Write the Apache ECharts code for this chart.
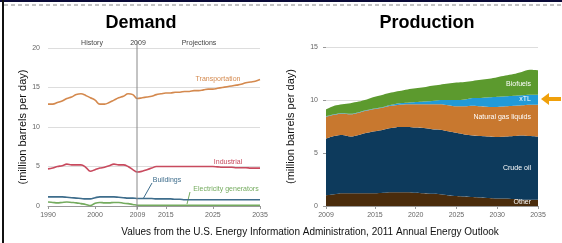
<!DOCTYPE html>
<html>
<head>
<meta charset="utf-8">
<script src="https://cdn.jsdelivr.net/npm/echarts@6/dist/echarts.min.js"></script>
<style>
html, body { margin: 0; padding: 0; background: #fff; }
#chart { width: 562px; height: 243px; }
</style>
</head>
<body>
<div id="chart"></div>
<script>
// Demand, 1990-2035 (million barrels per day)
var demandYears = [];
for (var y = 1990; y <= 2035; y++) demandYears.push(y);
var transportation = [12.9,12.9,13.1,13.3,13.6,13.8,14.1,14.2,14.0,13.7,13.4,12.9,12.9,13.1,13.4,13.7,13.9,14.2,14.1,13.6,
	13.7,13.8,13.9,14.1,14.2,14.3,14.3,14.4,14.4,14.5,14.5,14.6,14.6,14.7,14.8,14.8,14.9,15.0,15.1,15.2,15.3,15.4,15.6,15.7,15.8,16.0];
var industrial = [4.7,4.8,5.0,5.1,5.3,5.2,5.2,5.2,4.9,4.4,4.6,4.8,4.9,5.1,5.3,5.2,5.2,5.0,4.6,4.3,
	4.4,4.6,4.8,5.0,5.0,5.0,5.0,5.0,5.0,5.0,5.0,5.0,5.0,5.0,5.0,5.0,4.95,4.9,4.9,4.9,4.85,4.85,4.85,4.8,4.8,4.8];
var buildings = [1.15,1.15,1.15,1.15,1.1,1.05,1.0,0.95,0.9,0.9,1.05,1.15,1.15,1.15,1.15,1.1,1.05,1.0,1.0,0.95,
	0.95,0.95,0.95,0.9,0.9,0.9,0.9,0.85,0.85,0.8,0.8,0.8,0.8,0.8,0.8,0.8,0.8,0.8,0.8,0.8,0.8,0.8,0.8,0.8,0.8,0.8];
var electricity = [0.5,0.45,0.4,0.45,0.5,0.45,0.4,0.3,0.2,0.05,0.35,0.45,0.4,0.4,0.45,0.45,0.35,0.3,0.2,0.1,
	0.1,0.1,0.1,0.1,0.1,0.1,0.1,0.1,0.1,0.1,0.1,0.1,0.1,0.1,0.1,0.1,0.1,0.1,0.1,0.1,0.1,0.1,0.1,0.1,0.1,0.1];

// Production, 2009-2035, stacked components
var prodYears = [];
for (var p = 2009; p <= 2035; p++) prodYears.push(String(p));
var other = [1.0,1.1,1.2,1.2,1.2,1.2,1.2,1.25,1.3,1.3,1.3,1.25,1.2,1.15,1.1,1.0,0.95,0.9,0.85,0.8,0.75,0.7,0.7,0.65,0.6,0.6,0.6];
var crudeOil = [5.35,5.5,5.5,5.35,5.5,5.7,5.85,5.95,6.05,6.15,6.15,6.15,6.15,6.1,6.1,6.05,5.95,5.85,5.8,5.8,5.8,5.8,5.85,5.95,6.05,6.0,5.95];
var ngl = [2.05,2.0,2.0,2.1,2.1,2.1,2.1,2.1,2.1,2.1,2.15,2.2,2.25,2.35,2.4,2.45,2.5,2.65,2.8,2.8,2.8,2.85,2.85,2.85,2.85,2.95,3.0];
var xtl = [0.05,0.05,0.05,0.05,0.05,0.05,0.05,0.05,0.1,0.15,0.15,0.2,0.25,0.3,0.4,0.5,0.6,0.65,0.75,0.8,0.9,0.95,0.95,0.95,0.95,0.95,0.95];
var biofuels = [0.65,0.8,0.85,1.0,1.0,1.0,1.1,1.15,1.15,1.15,1.25,1.3,1.35,1.45,1.45,1.55,1.65,1.65,1.6,1.7,1.75,1.85,1.95,2.05,2.2,2.35,2.3];

var demandTicks = [1990, 2000, 2009, 2015, 2025, 2035];
var prodTicks = ['2009', '2015', '2020', '2025', '2030', '2035'];

function pairs(xs, ys) {
	return xs.map(function (x, i) { return [x, ys[i]]; });
}
function showProdTick(index, value) {
	return prodTicks.indexOf(value) >= 0;
}

var tickFont = { fontFamily: 'Liberation Sans', fontSize: 7, color: '#666' };

function demandLine(name, data, color) {
	return {
		name: name, type: 'line', xAxisIndex: 0, yAxisIndex: 0,
		data: pairs(demandYears, data), smooth: 0.4, showSymbol: false,
		lineStyle: { color: color, width: 1.6 }, silent: true, z: 3
	};
}

function prodArea(name, data, color) {
	return {
		name: name, type: 'line', xAxisIndex: 1, yAxisIndex: 1, stack: 'prod',
		data: data, smooth: 0.3, showSymbol: false,
		lineStyle: { width: 0 }, areaStyle: { color: color, opacity: 1 }, silent: true
	};
}

var chart = echarts.init(document.getElementById('chart'));
var option = {
	animation: false,
	grid: [
		{ left: 48, right: 302, top: 48, bottom: 37 },
		{ left: 326, right: 24, top: 47, bottom: 37 }
	],
	xAxis: [{
		type: 'value', gridIndex: 0, min: 1990, max: 2035,
		axisLine: { lineStyle: { color: '#999' } },
		axisTick: { customValues: demandTicks, length: 3, lineStyle: { color: '#999' } },
		axisLabel: Object.assign({ customValues: demandTicks, margin: 6, formatter: function (v) { return String(v); } }, tickFont),
		splitLine: { show: false }
	}, {
		type: 'category', gridIndex: 1, data: prodYears, boundaryGap: false,
		axisLine: { lineStyle: { color: '#999' } },
		axisTick: { interval: showProdTick, length: 3, lineStyle: { color: '#999' } },
		axisLabel: Object.assign({ interval: showProdTick, margin: 6 }, tickFont),
		splitLine: { show: false }
	}],
	yAxis: [{
		type: 'value', gridIndex: 0, min: 0, max: 20, interval: 5,
		name: '(million barrels per day)', nameLocation: 'middle', nameGap: 16,
		nameTextStyle: { fontFamily: 'Liberation Sans', fontSize: 11, color: '#111' },
		axisLine: { show: false }, axisTick: { show: false },
		axisLabel: Object.assign({ margin: 8 }, tickFont),
		splitLine: { lineStyle: { color: '#ddd', width: 1 } }
	}, {
		type: 'value', gridIndex: 1, min: 0, max: 15, interval: 5,
		name: '(million barrels per day)', nameLocation: 'middle', nameGap: 30,
		nameTextStyle: { fontFamily: 'Liberation Sans', fontSize: 11, color: '#111' },
		axisLine: { show: false },
		axisTick: { show: true, length: 3, lineStyle: { color: '#999' } },
		axisLabel: Object.assign({ margin: 8 }, tickFont),
		splitLine: { lineStyle: { color: '#ddd', width: 1 } }
	}],
	series: [
		demandLine('Transportation', transportation, '#d4894e'),
		demandLine('Industrial', industrial, '#c84a5e'),
		demandLine('Buildings', buildings, '#3e6d8c'),
		demandLine('Electricity generators', electricity, '#74ab5e'),
		prodArea('Other', other, '#4a2c0c'),
		prodArea('Crude oil', crudeOil, '#0d3a5c'),
		prodArea('Natural gas liquids', ngl, '#c8782f'),
		prodArea('xTL', xtl, '#229ad8'),
		prodArea('Biofuels', biofuels, '#5c9a2e')
	],
	graphic: [
		// slide frame
		{ type: 'rect', shape: { x: 0, y: 0, width: 562, height: 2 }, style: { fill: '#0a0a38' } },
		{ type: 'line', shape: { x1: 4, y1: 5, x2: 562, y2: 5 }, style: { stroke: '#888', lineWidth: 1, lineDash: [4, 3] } },
		{ type: 'rect', shape: { x: 2, y: 0, width: 2, height: 243 }, style: { fill: '#111' } },
		// titles
		{ type: 'text', x: 141, y: 23, style: { text: 'Demand', font: 'bold 18px "Liberation Sans"', fill: '#000', align: 'center', verticalAlign: 'middle' } },
		{ type: 'text', x: 427, y: 23, style: { text: 'Production', font: 'bold 18px "Liberation Sans"', fill: '#000', align: 'center', verticalAlign: 'middle' } },
		// demand: history / projections divider
		{ type: 'line', shape: { x1: 137, y1: 41, x2: 137, y2: 210 }, style: { stroke: '#888', lineWidth: 1 }, z: 5 },
		{ type: 'text', x: 92, y: 43, style: { text: 'History', font: '7px "Liberation Sans"', fill: '#444', align: 'center', verticalAlign: 'middle' } },
		{ type: 'text', x: 138, y: 43, style: { text: '2009', font: '7px "Liberation Sans"', fill: '#444', align: 'center', verticalAlign: 'middle' } },
		{ type: 'text', x: 199, y: 43, style: { text: 'Projections', font: '7px "Liberation Sans"', fill: '#444', align: 'center', verticalAlign: 'middle' } },
		// demand series labels
		{ type: 'text', x: 218, y: 79, style: { text: 'Transportation', font: '7px "Liberation Sans"', fill: '#d4894e', align: 'center', verticalAlign: 'middle' } },
		{ type: 'text', x: 228, y: 162, style: { text: 'Industrial', font: '7px "Liberation Sans"', fill: '#c84a5e', align: 'center', verticalAlign: 'middle' } },
		{ type: 'text', x: 167, y: 180, style: { text: 'Buildings', font: '7px "Liberation Sans"', fill: '#3e6d8c', align: 'center', verticalAlign: 'middle' } },
		{ type: 'line', shape: { x1: 152, y1: 183, x2: 143, y2: 199 }, style: { stroke: '#3e6d8c', lineWidth: 1 } },
		{ type: 'text', x: 226, y: 189, style: { text: 'Electricity generators', font: '7px "Liberation Sans"', fill: '#74ab5e', align: 'center', verticalAlign: 'middle' } },
		{ type: 'line', shape: { x1: 190, y1: 192, x2: 187, y2: 204 }, style: { stroke: '#74ab5e', lineWidth: 1 } },
		// production labels
		{ type: 'text', x: 531, y: 84, style: { text: 'Biofuels', font: '7px "Liberation Sans"', fill: '#fff', align: 'right', verticalAlign: 'middle' }, z: 10 },
		{ type: 'text', x: 531, y: 99, style: { text: 'xTL', font: '7px "Liberation Sans"', fill: '#fff', align: 'right', verticalAlign: 'middle' }, z: 10 },
		{ type: 'text', x: 531, y: 117, style: { text: 'Natural gas liquids', font: '7px "Liberation Sans"', fill: '#fff', align: 'right', verticalAlign: 'middle' }, z: 10 },
		{ type: 'text', x: 531, y: 168, style: { text: 'Crude oil', font: '7px "Liberation Sans"', fill: '#fff', align: 'right', verticalAlign: 'middle' }, z: 10 },
		{ type: 'text', x: 531, y: 202, style: { text: 'Other', font: '7px "Liberation Sans"', fill: '#fff', align: 'right', verticalAlign: 'middle' }, z: 10 },
		// orange arrow pointing at xTL
		{ type: 'polygon', shape: { points: [[541, 99], [549, 93], [549, 97], [561, 97], [561, 101], [549, 101], [549, 105]] }, style: { fill: '#f0a00a' }, z: 10 },
		// source note
		{ type: 'text', x: 310, y: 232, style: { text: 'Values from the U.S. Energy Information Administration, 2011 Annual Energy Outlook', font: '10px "Liberation Sans"', fill: '#111', align: 'center', verticalAlign: 'middle' } }
	]
};
chart.setOption(option);
</script>
</body>
</html>
